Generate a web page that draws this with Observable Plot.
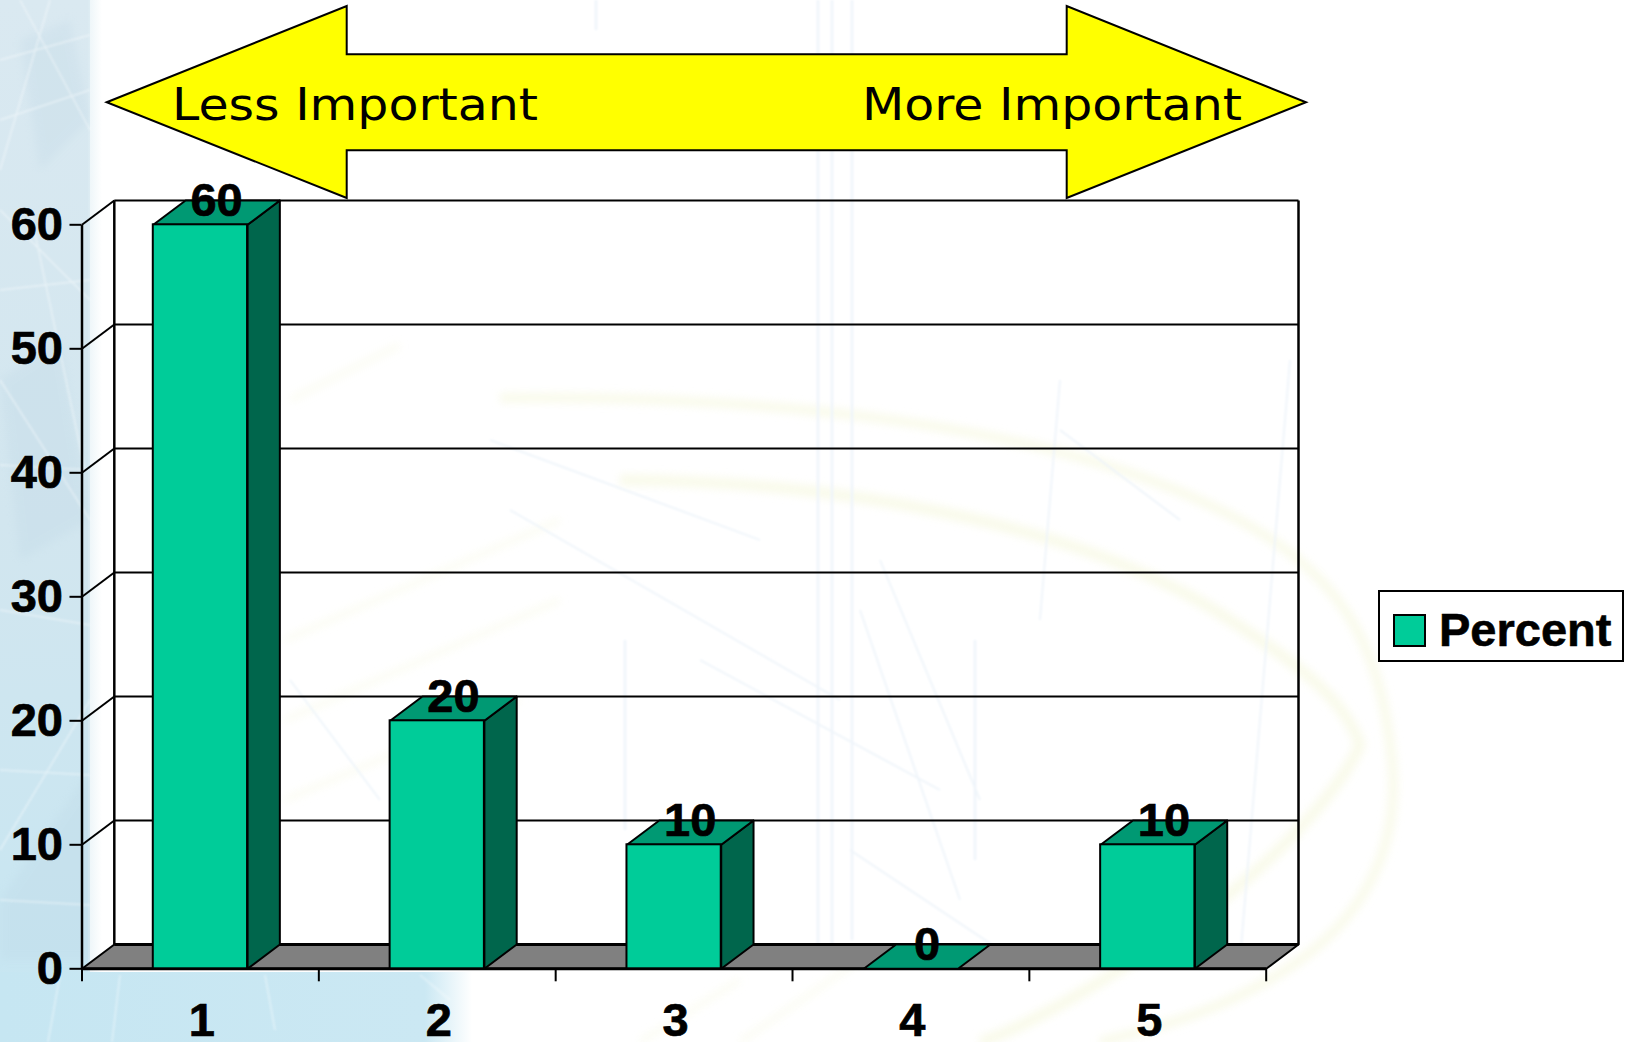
<!DOCTYPE html>
<html lang="en">
<head>
<meta charset="utf-8">
<title>Importance ratings</title>
<script src="https://cdn.jsdelivr.net/npm/d3@7"></script>
<script src="https://cdn.jsdelivr.net/npm/@observablehq/plot@0.6"></script>
<style>
  html, body { margin: 0; background: #fff; }
  #slide { position: relative; width: 1629px; height: 1042px; overflow: hidden; }
  #slide > svg { position: absolute; left: 0; top: 0; }
  #slide > svg.survey-chart text { stroke: #000; stroke-width: 0.7px; }
  #legend {
    position: absolute; left: 1378px; top: 590px; width: 242px; height: 68px;
    border: 2px solid #000; background: #fff;
    font: bold 47px "Liberation Sans", Arial, sans-serif; color: #000;
    -webkit-text-stroke: 0.6px #000;
  }
  #legend i {
    position: absolute; left: 13px; top: 22px; width: 29px; height: 29px;
    border: 2px solid #000; background: #00cc99; box-sizing: content-box;
  }
  #legend span { position: absolute; left: 59px; top: 12px; line-height: 52px; }
</style>
</head>
<body>
<div id="slide">
  <!-- Slide backdrop and the importance arrow -->
  <svg width="1629" height="1042" viewBox="0 0 1629 1042" xmlns="http://www.w3.org/2000/svg">
    <defs>
      <linearGradient id="band" x1="0" y1="0" x2="0" y2="1">
        <stop offset="0" stop-color="#dae9f1"/>
        <stop offset="0.5" stop-color="#d2e6ef"/>
        <stop offset="1" stop-color="#c6e6f2"/>
      </linearGradient>
      <linearGradient id="foot" x1="0" y1="0" x2="1" y2="0">
        <stop offset="0" stop-color="#c6e6f2"/>
        <stop offset="0.9" stop-color="#cbe8f3"/>
        <stop offset="1" stop-color="#ffffff"/>
      </linearGradient>
      <linearGradient id="edge" x1="0" y1="0" x2="1" y2="0">
        <stop offset="0" stop-color="#dcecf3"/>
        <stop offset="1" stop-color="#ffffff"/>
      </linearGradient>
      <filter id="soft" x="-10%" y="-10%" width="120%" height="120%"><feGaussianBlur stdDeviation="4"/></filter>
      <filter id="softer" x="-10%" y="-10%" width="120%" height="120%"><feGaussianBlur stdDeviation="1.2"/></filter>
      <clipPath id="bandClip"><rect x="0" y="0" width="90" height="1042"/></clipPath>
    </defs>
    <rect width="1629" height="1042" fill="#fff"/>
    <rect x="0" y="0" width="90" height="1042" fill="url(#band)"/>
    <rect x="88" y="0" width="14" height="985" fill="url(#edge)" opacity="0.55"/>
    <rect x="0" y="972" width="472" height="70" fill="url(#foot)"/>

    <g clip-path="url(#bandClip)">
      <g fill="#b9d3e2" opacity="0.22" filter="url(#soft)">
        <polygon points="20,40 70,20 90,120 40,170"/>
        <polygon points="0,380 60,340 90,520 20,560"/>
        <polygon points="0,900 90,770 90,960 0,960"/>
      </g>
    </g>

    <g fill="none" stroke="#f5f7dc" filter="url(#soft)" opacity="0.6">
      <path d="M500 398 C 800 395, 1060 430, 1220 510 C 1340 570, 1380 640, 1392 760 C 1400 840, 1370 910, 1300 960 C 1230 1010, 1150 1030, 1100 1042" stroke-width="9"/>
      <path d="M620 480 C 820 480, 1080 520, 1230 620 C 1300 665, 1345 700, 1360 745 C 1340 790, 1270 870, 1180 930 C 1100 985, 1020 1030, 980 1042" stroke-width="11"/>
      <path d="M290 400 L 400 345 M285 640 L 560 520 M285 720 L 560 600 M285 800 L 520 700 M740 1042 L 860 960 M640 1042 L 740 980" stroke-width="6" opacity="0.6"/>
    </g>
    <g fill="none" stroke="#eef4fa" filter="url(#softer)">
      <path d="M818 0 V 960 M832 0 V 960 M852 0 V 940 M596 0 V 30 M975 640 V 860 M625 640 V 830" stroke-width="2.5"/>
      <path d="M1290 360 L 1240 960 M1060 380 L 1040 620 M880 560 L 980 800 M860 610 L 960 900 M1060 430 L 1180 520" stroke-width="1.8"/>
      <path d="M490 440 L 760 540 M510 510 L 840 700 M700 660 L 940 790 M290 680 L 380 800 M850 850 L 1000 950" stroke-width="1.8"/>
    </g>
    <g fill="none" stroke="#ffffff" stroke-width="1.5" opacity="0.45" filter="url(#softer)">
      <path d="M0 60 L 90 35 M20 0 L 90 130 M0 120 L 90 90 M50 0 L 0 170 M0 210 L 90 300 M0 290 L 90 280 M30 210 L 85 470 M0 380 L 90 520 M0 465 L 90 470 M0 610 L 90 625 M0 770 L 90 775 M0 850 L 90 700 M0 900 L 90 905"/>
      <path d="M60 975 L 48 1042 M120 975 L 112 1042 M265 975 L 275 1030 M420 975 L 450 1000"/>
    </g>

    <polygon points="106.7,102.3 346.7,6 346.7,54.3 1066.7,54.3 1066.7,6 1306,102.3 1066.7,198 1066.7,150.3 346.7,150.3 346.7,198"
             fill="#ffff00" stroke="#000" stroke-width="2"/>
    <g font-family="'DejaVu Sans', Verdana, sans-serif" font-size="45" fill="#000">
      <text x="172" y="120" textLength="366" lengthAdjust="spacingAndGlyphs">Less Important</text>
      <text x="862" y="120" textLength="380" lengthAdjust="spacingAndGlyphs">More Important</text>
    </g>
  </svg>
  <div id="legend"><i></i><span>Percent</span></div>
</div>
<script>
// Survey results: share of answers at each point of the importance scale.
const categories = [1, 2, 3, 4, 5];
const percent = [60, 20, 10, 0, 10];
const yTicks = [0, 10, 20, 30, 40, 50, 60];
const xBoundaries = [0.5, 1.5, 2.5, 3.5, 4.5, 5.5];

// Depth of the pseudo-3D box, in data units of each axis.
const depthX = 0.1364;
const depthY = 1.96;
const barWidth = 0.398;

const xMin = xBoundaries[0];
const xMax = xBoundaries[xBoundaries.length - 1];
const yTop = yTicks[yTicks.length - 1];

const rows = categories.map((c, i) => ({category: c, value: percent[i]}));

// Parallelogram faces of each bar, closed so the outline goes all the way round.
const sideFaces = rows.flatMap((d) => {
  const r = d.category + barWidth / 2;
  return [[r, 0], [r + depthX, depthY], [r + depthX, d.value + depthY], [r, d.value], [r, 0]]
    .map(([x, y]) => ({face: d.category, x, y}));
}).filter((p) => rows[p.face - 1].value > 0);

const topFaces = rows.flatMap((d) => {
  const l = d.category - barWidth / 2;
  const r = d.category + barWidth / 2;
  return [[l, d.value], [r, d.value], [r + depthX, d.value + depthY], [l + depthX, d.value + depthY], [l, d.value]]
    .map(([x, y]) => ({face: d.category, x, y}));
});

const floor = [[xMin, 0], [xMax, 0], [xMax + depthX, depthY], [xMin + depthX, depthY], [xMin, 0]]
  .map(([x, y]) => ({x, y}));

const gridBack = yTicks.slice(1).map((t) => ({x1: xMin + depthX, x2: xMax + depthX, y1: t + depthY, y2: t + depthY}));
const gridSide = yTicks.slice(1).map((t) => ({x1: xMin, x2: xMin + depthX, y1: t, y2: t + depthY}));
const wallEdges = [
  {x1: xMin, x2: xMin, y1: 0, y2: yTop},
  {x1: xMin + depthX, x2: xMin + depthX, y1: depthY, y2: yTop + depthY},
  {x1: xMax + depthX, x2: xMax + depthX, y1: depthY, y2: yTop + depthY}
];
const floorLines = [
  {x1: xMin, x2: xMax, y1: 0, y2: 0},
  {x1: xMin + depthX, x2: xMax + depthX, y1: depthY, y2: depthY}
];
const link = {x1: "x1", x2: "x2", y1: "y1", y2: "y2", stroke: "#000"};
const labelFont = {fontSize: 47, fontWeight: "bold", fill: "#000"};

const chart = Plot.plot({
  width: 1629,
  height: 1042,
  marginLeft: 81.5,
  marginRight: 331,
  marginTop: 200,
  marginBottom: 73.7,
  style: {background: "transparent", fontFamily: "'Liberation Sans', Arial, sans-serif", color: "#000", overflow: "visible"},
  x: {type: "linear", domain: [xMin, xMax + depthX]},
  y: {type: "linear", domain: [0, yTop + depthY]},
  marks: [
    Plot.link(gridBack, {...link, strokeWidth: 2}),
    Plot.link(gridSide, {...link, strokeWidth: 2}),
    Plot.link(wallEdges, {...link, strokeWidth: 2.5}),
    Plot.line(floor, {x: "x", y: "y", fill: "#808080", stroke: "#000", strokeWidth: 2}),
    Plot.link(floorLines, {...link, strokeWidth: 3}),
    Plot.line(sideFaces, {x: "x", y: "y", z: "face", fill: "#00664c", stroke: "#000", strokeWidth: 2}),
    Plot.line(topFaces, {x: "x", y: "y", z: "face", fill: "#009973", stroke: "#000", strokeWidth: 2}),
    Plot.rect(rows.filter((d) => d.value > 0), {
      x1: (d) => d.category - barWidth / 2,
      x2: (d) => d.category + barWidth / 2,
      y1: 0,
      y2: "value",
      fill: "#00cc99",
      stroke: "#000",
      strokeWidth: 2
    }),
    Plot.text(rows, {
      x: (d) => d.category + depthX / 2,
      y: (d) => d.value + depthY,
      text: (d) => String(d.value),
      ...labelFont
    }),
    Plot.axisY(yTicks, {anchor: "left", tickSize: 12, tickPadding: 7, strokeWidth: 2, stroke: "#000", label: null, ...labelFont}),
    Plot.axisX(xBoundaries, {anchor: "bottom", tickSize: 13, strokeWidth: 2, stroke: "#000", tickFormat: () => "", label: null}),
    Plot.axisX(categories, {anchor: "bottom", tickSize: 0, tickPadding: 34, dx: 1.5, tickFormat: "d", label: null, ...labelFont})
  ]
});

chart.classList.add("survey-chart");
document.getElementById("slide").insertBefore(chart, document.getElementById("legend"));
</script>
</body>
</html>
